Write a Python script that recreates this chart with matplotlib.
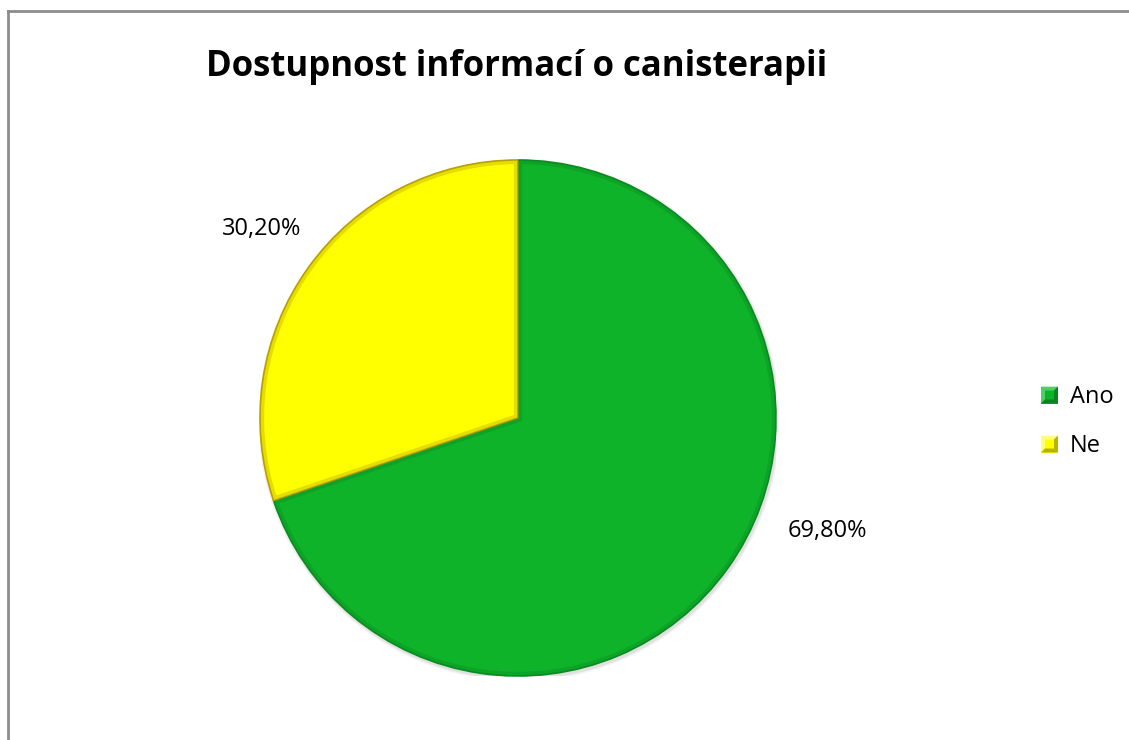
import matplotlib
matplotlib.use("Agg")
import matplotlib.pyplot as plt
from matplotlib.patches import Rectangle, Polygon, Circle, Wedge
from matplotlib.lines import Line2D

categories = ["Ano", "Ne"]
values = [69.8, 30.2]
labels = ["69,80%", "30,20%"]
colors = ["#0EB32A", "#FFFF00"]
edge_colors = ["#0A8A20", "#B8A000"]
light_colors = ["#5FD873", "#FFFF99"]
dark_colors = ["#087A1C", "#A8A000"]
title = "Dostupnost informací o canisterapii"

W, H = 1129, 740
fig = plt.figure(figsize=(W / 100, H / 100), dpi=100)
fig.patch.set_facecolor("white")

# chart frame (cropped: only left and top visible)
fig.add_artist(Line2D([7.5 / W, 7.5 / W], [0, 1 - 10.5 / H], transform=fig.transFigure,
                      color="#8C8C8C", lw=2))
fig.add_artist(Line2D([7.5 / W, 1], [1 - 10.5 / H, 1 - 10.5 / H], transform=fig.transFigure,
                      color="#8C8C8C", lw=2))

cx, cy, r = 518, 418, 258
ax = fig.add_axes([(cx - r) / W, (H - cy - r) / H, 2 * r / W, 2 * r / H])
# soft shadow
for k, a in [(1.012, 0.05), (1.006, 0.07)]:
    ax.add_patch(Circle((0.005, -0.008), k, color="black", alpha=a, lw=0, zorder=0))
wedges, _ = ax.pie(values, colors=colors, startangle=90, counterclock=False,
                   radius=1.0, wedgeprops=dict(linewidth=1.2))
for w, ec in zip(wedges, edge_colors):
    w.set_edgecolor(ec)
    w.set_zorder(2)
    # inner bevel band
    bevel = Wedge(w.center, w.r, w.theta1, w.theta2, facecolor="none",
                  edgecolor=ec, linewidth=6, alpha=0.35, zorder=3)
    ax.add_patch(bevel)
    bevel.set_clip_path(w)
ax.set_xlim(-1, 1)
ax.set_ylim(-1, 1)
ax.set_aspect("equal")
ax.axis("off")

font = ["Open Sans", "DejaVu Sans"]
fig.text(517 / W, 1 - 76 / H, title, ha="center", va="baseline",
         fontsize=25, fontweight="bold", family=font, color="black")

fig.text(827 / W, 1 - 537 / H, labels[0], ha="center", va="baseline",
         fontsize=17, family=font)
fig.text(262 / W, 1 - 235 / H, labels[1], ha="center", va="baseline",
         fontsize=17, family=font)

# legend with bevelled square markers
legend_y = [395, 444]
mx, ms = 1041, 17
for cat, yc, c, lc, dc in zip(categories, legend_y, colors, light_colors, dark_colors):
    x0, x1 = mx / W, (mx + ms) / W
    y0, y1 = 1 - (yc + ms / 2) / H, 1 - (yc - ms / 2) / H
    ix, iy = 4 / W, 4 / H
    tris = [
        ([(x0, y1), (x1, y1), (x1 - ix, y1 - iy), (x0 + ix, y1 - iy)], lc),
        ([(x0, y0), (x0, y1), (x0 + ix, y1 - iy), (x0 + ix, y0 + iy)], lc),
        ([(x1, y0), (x1, y1), (x1 - ix, y1 - iy), (x1 - ix, y0 + iy)], dc),
        ([(x0, y0), (x1, y0), (x1 - ix, y0 + iy), (x0 + ix, y0 + iy)], dc),
    ]
    fig.add_artist(Rectangle((x0, y0), x1 - x0, y1 - y0, transform=fig.transFigure,
                             facecolor=c, edgecolor="none"))
    for pts, col in tris:
        fig.add_artist(Polygon(pts, closed=True, transform=fig.transFigure,
                               facecolor=col, edgecolor="none", alpha=0.8))
    fig.text(1070 / W, 1 - (yc + 8) / H, cat, ha="left", va="baseline",
             fontsize=17, family=font)

fig.savefig("out.png", dpi=100)
